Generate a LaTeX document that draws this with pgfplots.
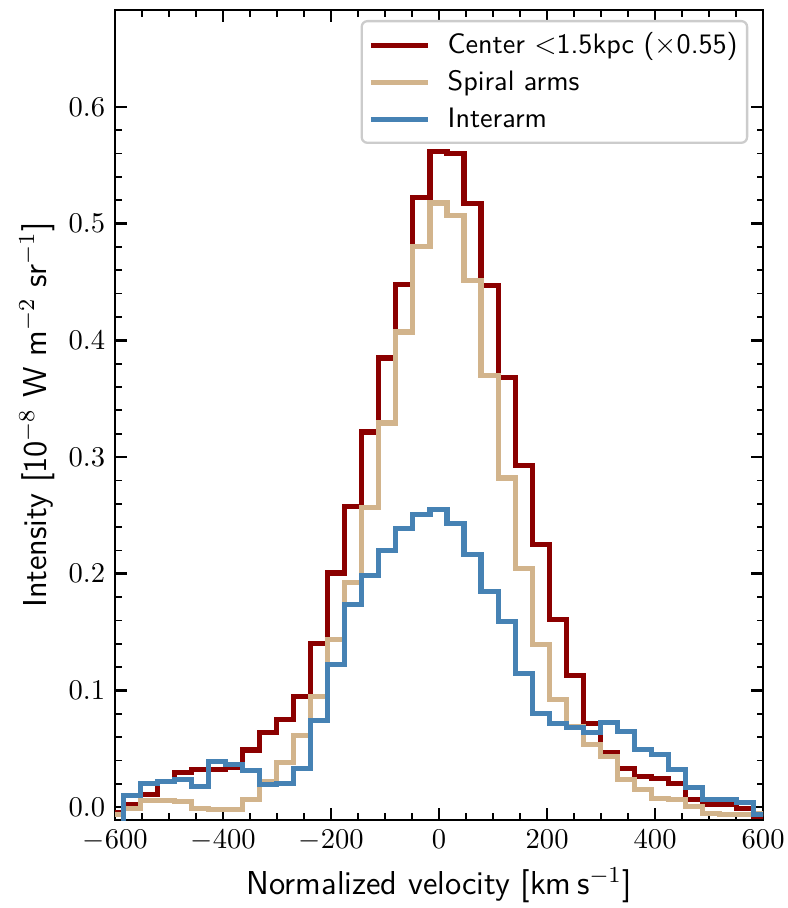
\documentclass[border=0pt]{standalone}
\usepackage{pgfplots}
\usepackage{pgfplotstable}
\pgfplotsset{compat=1.18}
\usetikzlibrary{calc}
\definecolor{darkred}{HTML}{8B0000}
\definecolor{tanc}{HTML}{D2B48C}
\definecolor{steelblue}{HTML}{4682B4}

% channel left edges, value in each channel (last row closes the final channel)
\pgfplotstableread{
e        red     tan     blue
-616.45 -0.005  -0.0066 -0.020
-584.90  0.002  -0.001   0.0097
-553.35  0.011   0.0057  0.020
-521.80  0.022   0.006   0.022
-490.25  0.030   0.0048  0.0234
-458.70  0.0326 -0.001   0.0177
-427.15  0.032  -0.0023  0.0391
-395.60  0.0343 -0.0023  0.0363
-364.05  0.049   0.0063  0.0314
-332.50  0.0643  0.022   0.0191
-300.95  0.0748  0.0386  0.020
-269.40  0.0948  0.0614  0.0334
-237.85  0.140   0.0948  0.074
-206.30  0.2006  0.1434  0.122
-174.75  0.2577  0.1925  0.1734
-143.20  0.3214  0.2568  0.1983
-111.65  0.3848  0.3291  0.2200
-80.10   0.4477  0.4071  0.2391
-48.55   0.5225  0.4805  0.2505
-17.00   0.5620  0.5177  0.2548
14.55    0.5600  0.5071  0.2428
46.10    0.5171  0.4514  0.2168
77.65    0.4468  0.3699  0.1848
109.20   0.3682  0.2820  0.1591
140.75   0.2925  0.2043  0.1148
172.30   0.2254  0.1391  0.0806
203.85   0.1611  0.0920  0.0720
235.40   0.1125  0.0691  0.0686
266.95   0.0720  0.0534  0.0643
298.50   0.0471  0.0434  0.0725
330.05   0.0328  0.0240  0.0648
361.60   0.0262  0.0148  0.0497
393.15   0.0248  0.0077  0.0448
424.70   0.0200  0.0068  0.0320
456.25   0.0068  0.0005  0.0168
487.80   0.0020 -0.0057  0.0063
519.35   0.0020 -0.0060  0.0063
550.90  -0.0010 -0.0060  0.0040
582.45  -0.0080 -0.0057 -0.0066
614.00  -0.0080 -0.0057 -0.0066
}\spectra

\begin{document}
\begin{tikzpicture}
\begin{axis}[
  scale only axis,
  width=226.8pt, height=283.5pt,
  xmin=-600, xmax=600, ymin=-0.011, ymax=0.683,
  xtick={-600,-400,...,600},
  ytick={0,0.1,0.2,0.3,0.4,0.5,0.6},
  minor x tick num=3, minor y tick num=4,
  tick align=inside, xtick pos=both, ytick pos=both,
  major tick length=4.1pt, minor tick length=2.3pt,
  major tick style={black, line width=0.9pt},
  minor tick style={black, line width=0.6pt},
  axis line style={line width=0.9pt},
  scaled y ticks=false,
  yticklabel style={/pgf/number format/.cd, fixed, fixed zerofill, precision=1},
  xlabel={Normalized velocity [km\,s$^{-1}$]},
  ylabel={Intensity [10$^{-8}$ W m$^{-2}$ sr$^{-1}$]},
  label style={font=\sffamily\fontsize{11.6}{13}\selectfont},
  xlabel style={at={(axis description cs:0.5,-0.0804)}, anchor=center},
  ylabel style={at={(axis description cs:-0.1204,0.5)}, anchor=center},
  legend cell align=left,
  legend style={at={(1,1)}, anchor=north east, xshift=-5.2pt, yshift=-3.5pt,
    draw=black!20, line width=0.8pt, rounded corners=2pt,
    fill=white, fill opacity=0.8, text opacity=1,
    font=\sffamily\fontsize{9.85}{12}\selectfont,
    inner xsep=2.3pt, inner ysep=2pt, row sep=0.4pt,
    nodes={inner xsep=1pt}},
  legend image code/.code={\draw[#1, line width=1.8pt] (0pt,0pt) -- (20pt,0pt); \path (25pt,0pt);},
]
\addplot[const plot mark left, darkred, line width=1.8pt] table[x=e, y=red] {\spectra};
\addlegendentry{Center $<$1.5kpc ($\times$0.55)}
\addplot[const plot mark left, tanc, line width=1.8pt] table[x=e, y=tan] {\spectra};
\addlegendentry{Spiral arms}
\addplot[const plot mark left, steelblue, line width=1.8pt] table[x=e, y=blue] {\spectra};
\addlegendentry{Interarm}
\end{axis}
\pgfresetboundingbox
\path ($(current axis.south west)+(-40.3pt,-30.8pt)$) rectangle ($(current axis.north east)+(8.7pt,3.5pt)$);
\end{tikzpicture}
\end{document}
